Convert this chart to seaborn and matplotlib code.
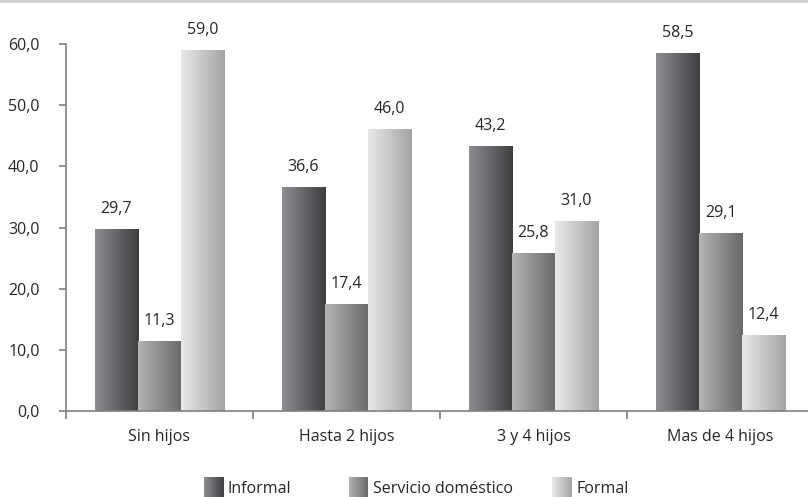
import numpy as np
import pandas as pd
import matplotlib
matplotlib.use("Agg")
import matplotlib.pyplot as plt
from matplotlib.colors import LinearSegmentedColormap
from matplotlib.patches import Rectangle
from matplotlib.ticker import FixedLocator, FuncFormatter
import seaborn as sns

categories = ["Sin hijos", "Hasta 2 hijos", "3 y 4 hijos", "Mas de 4 hijos"]
series_names = ["Informal", "Servicio doméstico", "Formal"]
informal = [29.7, 36.6, 43.2, 58.5]
servicio = [11.3, 17.4, 25.8, 29.1]
formal = [59.0, 46.0, 31.0, 12.4]
y_ticks = [0, 10, 20, 30, 40, 50, 60]

# left -> right shading of each series
shades = {
    "Informal": ("#8d8e91", "#3d3e40"),
    "Servicio doméstico": ("#b3b4b6", "#68696b"),
    "Formal": ("#e8e9eb", "#a3a4a6"),
}

sns.set_theme(style="white")
plt.rcParams["font.family"] = ["Liberation Sans Narrow", "Open Sans", "DejaVu Sans"]
TEXT = "#262626"
AXIS = "#7f7f7f"

df = pd.DataFrame({
    "cat": categories * 3,
    "serie": [series_names[0]] * 4 + [series_names[1]] * 4 + [series_names[2]] * 4,
    "valor": informal + servicio + formal,
})

fig = plt.figure(figsize=(8.08, 4.97), dpi=100)
ax = fig.add_axes([66 / 808, 86 / 497, 748 / 808, 367 / 497])

sns.barplot(data=df, x="cat", y="valor", hue="serie", order=categories,
            hue_order=series_names, width=0.69, gap=0, dodge=True,
            errorbar=None, legend=False, ax=ax, saturation=1)

# replace flat fills with horizontal gradients
grad = np.linspace(0, 1, 256).reshape(1, -1)
bars = [p for p in ax.patches if isinstance(p, Rectangle)]
for i, p in enumerate(bars):
    name = series_names[i // len(categories)]
    cmap = LinearSegmentedColormap.from_list(name, shades[name])
    x0, w, h = p.get_x(), p.get_width(), p.get_height()
    ax.imshow(grad, extent=[x0, x0 + w, 0, h], aspect="auto", cmap=cmap,
              origin="lower", zorder=2, interpolation="bicubic")
    p.set_visible(False)
    label = f"{h:.1f}".replace(".", ",")
    ax.annotate(label, (x0 + w / 2, h), xytext=(0, 9), textcoords="offset points",
                ha="center", va="bottom", fontsize=11.5, color=TEXT)

ax.set_xlim(-0.5, 3.5)
ax.set_ylim(0, 60)

for side in ["top", "right"]:
    ax.spines[side].set_visible(False)
for side in ["left", "bottom"]:
    ax.spines[side].set_color(AXIS)
    ax.spines[side].set_linewidth(1.2)

ax.yaxis.set_major_locator(FixedLocator(y_ticks))
ax.yaxis.set_major_formatter(FuncFormatter(lambda v, _: f"{v:.1f}".replace(".", ",")))
ax.tick_params(axis="y", direction="out", length=5, width=1.2, color=AXIS,
               pad=14, labelsize=11.5, labelcolor=TEXT, left=True)

ax.set_xticks(range(len(categories)))
ax.set_xticklabels(categories)
ax.xaxis.set_minor_locator(FixedLocator([-0.5, 0.5, 1.5, 2.5, 3.5]))
ax.tick_params(axis="x", which="major", length=0, pad=13, labelsize=11.5, labelcolor=TEXT)
ax.tick_params(axis="x", which="minor", direction="out", length=6, width=1.2,
               color=AXIS, bottom=True)
ax.set_xlabel("")
ax.set_ylabel("")
ax.grid(False)

# thin band along the top edge
fig.add_artist(Rectangle((0, 1 - 3 / 497), 1, 3 / 497, transform=fig.transFigure,
                         facecolor="#d2d2d2", edgecolor="none"))

# legend along the bottom
legend_x = [204, 349, 552]
for name, lx in zip(series_names, legend_x):
    lax = fig.add_axes([lx / 808, 0, 19 / 808, 20 / 497])
    cmap = LinearSegmentedColormap.from_list(name + "_leg", shades[name])
    lax.imshow(grad, aspect="auto", cmap=cmap, interpolation="bicubic")
    lax.set_axis_off()
    fig.text((lx + 24) / 808, 8 / 497, name, ha="left", va="center",
             fontsize=11.5, color=TEXT)

fig.savefig("out.png", dpi=100)
